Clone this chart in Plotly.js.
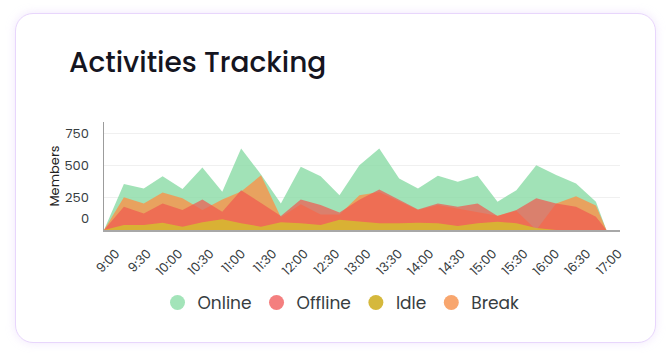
<!DOCTYPE html>
<html>
<head>
<meta charset="utf-8">
<script src="https://cdn.plot.ly/plotly-3.0.1.min.js"></script>
<style>
  html, body { margin: 0; padding: 0; width: 672px; height: 363px; background: #ffffff; overflow: hidden; }
  #card { position: absolute; left: 15px; top: 13px; width: 641px; height: 330px; border: 1.5px solid #e8d6fc; border-radius: 18px; background: #ffffff; box-shadow: 0 0 10px rgba(214,186,250,0.35); box-sizing: border-box; }
  #chart { position: absolute; left: 0; top: 0; width: 672px; height: 363px; }
</style>
</head>
<body>
<div id="card"></div>
<div id="chart"></div>
<script>
// Sample times (x) and series values (Members)
const times = ["09:00","09:19","09:38","09:56","10:15","10:34","10:53","11:11","11:30","11:49","12:08","12:27","12:45","13:04","13:23","13:42","14:00","14:19","14:38","14:57","15:16","15:34","15:53","16:12","16:31","16:50","17:00"];
const online  = [0,357,323,419,318,486,297,634,432,207,491,419,271,504,634,401,323,421,375,421,219,310,504,427,362,219,0];
const offline = [0,181,129,207,155,238,142,310,210,109,238,194,137,235,315,233,160,207,181,207,109,155,246,207,181,103,0];
const idle    = [0,39,39,57,26,60,83,52,26,60,52,39,80,65,52,52,57,52,31,52,65,52,15,0,0,0,0];
const brk     = [0,254,207,292,246,155,238,300,425,100,200,120,120,271,295,225,155,194,165,140,110,150,0,207,262,190,0];
const tickLabels = ["9:00","9:30","10:00","10:30","11:00","11:30","12:00","12:30","13:00","13:30","14:00","14:30","15:00","15:30","16:00","16:30","17:00"];
const yTicks = [0,250,500,750];

const toMin = s => { const p = s.split(":"); return (+p[0])*60 + (+p[1]); };
const x = times.map(toMin);
const tickVals = tickLabels.map(toMin);

const FONT = "Poppins, 'Open Sans', sans-serif";

function area(name, y, fill) {
  return { type: 'scatter', mode: 'lines', name: name, x: x, y: y, fill: 'tozeroy',
           fillcolor: fill, line: { width: 0, color: fill }, showlegend: false, hoverinfo: 'skip' };
}
function legendDot(name, color, rank) {
  return { type: 'scatter', mode: 'markers', name: name, x: [null], y: [null],
           marker: { symbol: 'circle', size: 15, color: color }, legendrank: rank, hoverinfo: 'skip' };
}

const data = [
  area('Online', online, 'rgba(134,218,163,0.78)'),
  area('Break', brk, 'rgba(245,150,80,0.85)'),
  area('Offline', offline, 'rgba(240,90,80,0.72)'),
  area('Idle', idle, 'rgba(215,182,50,0.92)'),
  legendDot('Online', '#a3e4b9', 1),
  legendDot('Offline', '#f47f7f', 2),
  legendDot('Idle', '#d5b83c', 3),
  legendDot('Break', '#f8a66e', 4)
];

const layout = {
  width: 672, height: 363,
  paper_bgcolor: 'rgba(0,0,0,0)', plot_bgcolor: 'rgba(0,0,0,0)',
  margin: { l: 104, r: 52, t: 122, b: 133 },
  font: { family: FONT, color: '#373d3f' },
  title: { text: 'Activities Tracking', xref: 'container', yref: 'container',
           x: 69/672, xanchor: 'left', y: 1 - 62/363, yanchor: 'middle',
           font: { family: FONT, size: 28, color: '#15151f', weight: 500 } },
  xaxis: {
    range: [540, 1033], tickvals: tickVals, ticktext: tickLabels, tickangle: -45,
    showgrid: false, zeroline: false, showline: true, linecolor: '#a8a8a8', linewidth: 2,
    tickfont: { family: FONT, size: 12.8, color: '#373d3f' }, ticklabelstandoff: 9, ticklabelshift: 12,
    fixedrange: true
  },
  yaxis: {
    range: [0, 840], tickvals: yTicks, ticktext: yTicks.map(v => v === 0 ? '' : String(v)),
    showgrid: true, gridcolor: '#f0f0f0', gridwidth: 1, zeroline: false,
    showline: true, linecolor: '#9c9c9c', linewidth: 1.5,
    tickfont: { family: FONT, size: 13, color: '#373d3f' }, ticklabelstandoff: 11,
    title: { text: 'Members', standoff: 2, font: { family: FONT, size: 13, color: '#222' } },
    fixedrange: true
  },
  legend: { orientation: 'h', xref: 'container', yref: 'container', x: 0.5 + 5/672, xanchor: 'center',
            y: 1 - 303/363, yanchor: 'middle', font: { family: FONT, size: 17, color: '#373d3f' },
            bgcolor: 'rgba(0,0,0,0)', itemclick: false, itemdoubleclick: false },
  annotations: [{ text: '0', xref: 'paper', yref: 'y', x: 0, y: 0, xanchor: 'right', yanchor: 'middle',
                  xshift: -13, yshift: 12, showarrow: false, font: { family: FONT, size: 13, color: '#373d3f' } }],
  showlegend: true
};

Plotly.newPlot('chart', data, layout, { displayModeBar: false, staticPlot: true });
</script>
</body>
</html>
